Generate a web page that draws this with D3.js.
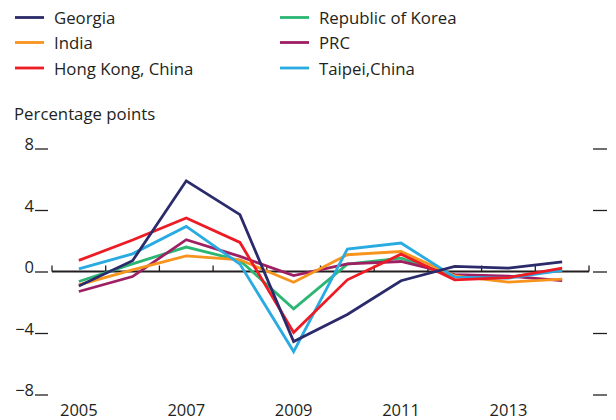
<!DOCTYPE html>
<html>
<head>
<meta charset="utf-8">
<script src="https://cdn.jsdelivr.net/npm/d3@7"></script>
<style>
  html, body { margin: 0; padding: 0; background: #fff; }
  svg { display: block; }
  text { font-family: "Open Sans", "Noto Sans", sans-serif; fill: #231f20; }
</style>
</head>
<body>
<svg id="chart" width="616" height="420"></svg>
<script>
const years = [2005, 2006, 2007, 2008, 2009, 2010, 2011, 2012, 2013, 2014];
const yearLabels = [2005, 2007, 2009, 2011, 2013];
const yTicks = [8, 4, 0, -4, -8];
const seriesNames = ["Georgia", "India", "Hong Kong, China", "Republic of Korea", "PRC", "Taipei,China"];
const seriesColors = ["#2b2a6b", "#f7941d", "#ed1c24", "#2bb673", "#9e1f63", "#29abe2"];

const georgia = [-0.95, 0.7, 5.9, 3.7, -4.55, -2.8, -0.6, 0.33, 0.22, 0.63];
const india   = [-0.87, 0.1, 1.02, 0.76, -0.7, 1.09, 1.3, -0.28, -0.69, -0.5];
const hongKong = [0.72, 2.05, 3.48, 1.89, -3.97, -0.54, 1.13, -0.54, -0.4, 0.22];
const korea   = [-0.65, 0.5, 1.59, 0.72, -2.43, 0.48, 0.87, -0.33, -0.37, 0.11];
const prc     = [-1.3, -0.33, 2.07, 0.98, -0.26, 0.5, 0.65, -0.21, -0.3, -0.6];
const taipei  = [0.17, 1.15, 2.93, 0.48, -5.21, 1.46, 1.85, -0.37, -0.43, 0.07];

const seriesValues = [georgia, india, hongKong, korea, prc, taipei];

const svg = d3.select("#chart");

const x = d3.scaleBand().domain(years).range([52, 589]);
const y = d3.scaleLinear().domain([-8, 8]).range([394.5, 148.5]);

// left tick labels and dashes
const leftAxis = d3.axisLeft(y).tickValues(yTicks).tickSize(0).tickPadding(0)
  .tickFormat(d => d < 0 ? "\u2212" + Math.abs(d) : String(d));
const gl = svg.append("g").attr("transform", "translate(48,0)").call(leftAxis);
gl.select(".domain").remove();
gl.selectAll(".tick line").remove();
gl.selectAll(".tick text")
  .attr("x", -14).attr("dy", 0).attr("y", 1)
  .attr("font-size", 16.5).attr("text-anchor", "end")
  .style("font-family", "'Open Sans', sans-serif").attr("fill", "#231f20");
gl.selectAll(".tick").append("line")
  .attr("x1", -13).attr("x2", 0).attr("y1", 0).attr("y2", 0)
  .attr("stroke", "#231f20").attr("stroke-width", 1.3);

// right dashes
const rightAxis = d3.axisRight(y).tickValues(yTicks).tickSize(14).tickFormat("");
const gr = svg.append("g").attr("transform", "translate(593,0)").call(rightAxis);
gr.select(".domain").remove();
gr.selectAll(".tick line").attr("stroke", "#231f20").attr("stroke-width", 1.3);

// zero line with band-edge ticks
const zeroY = y(0);
svg.append("line")
  .attr("x1", x.range()[0]).attr("x2", x.range()[1])
  .attr("y1", zeroY).attr("y2", zeroY)
  .attr("stroke", "#231f20").attr("stroke-width", 2);
const edges = years.map(d => x(d)).concat([x.range()[1]]);
svg.selectAll(".edge").data(edges).enter().append("line")
  .attr("x1", d => d).attr("x2", d => d)
  .attr("y1", zeroY).attr("y2", zeroY - 6)
  .attr("stroke", "#231f20").attr("stroke-width", 1.3);

// x labels
const bottomAxis = d3.axisBottom(x).tickValues(yearLabels).tickSize(0).tickPadding(0);
const gb = svg.append("g").attr("transform", "translate(0,416)").call(bottomAxis);
gb.select(".domain").remove();
gb.selectAll(".tick text").attr("y", 0).attr("dy", 0)
  .attr("font-size", 16.5).style("font-family", "'Open Sans', sans-serif").attr("fill", "#231f20");

// lines
const line = d3.line().x((d, i) => x(years[i]) + x.bandwidth() / 2).y(d => y(d));
const drawOrder = [3, 4, 1, 5, 2, 0];
drawOrder.forEach(k => {
  svg.append("path").datum(seriesValues[k])
    .attr("d", line)
    .attr("fill", "none")
    .attr("stroke", seriesColors[k])
    .attr("stroke-width", 2.8)
    .attr("stroke-linejoin", "miter");
});

// legend
const legendRows = [17.5, 42.5, 68];
seriesNames.forEach((name, i) => {
  const col = Math.floor(i / 3), row = i % 3;
  const lx = col === 0 ? 15 : 280;
  const ly = legendRows[row];
  svg.append("line").attr("x1", lx).attr("x2", lx + 29).attr("y1", ly).attr("y2", ly)
    .attr("stroke", seriesColors[i]).attr("stroke-width", 2.8);
  svg.append("text").attr("x", lx + 39).attr("y", ly + 6.5)
    .attr("font-size", 16.8).text(name);
});

svg.append("text").attr("x", 14).attr("y", 120).attr("font-size", 16.8).text("Percentage points");
</script>
</body>
</html>
